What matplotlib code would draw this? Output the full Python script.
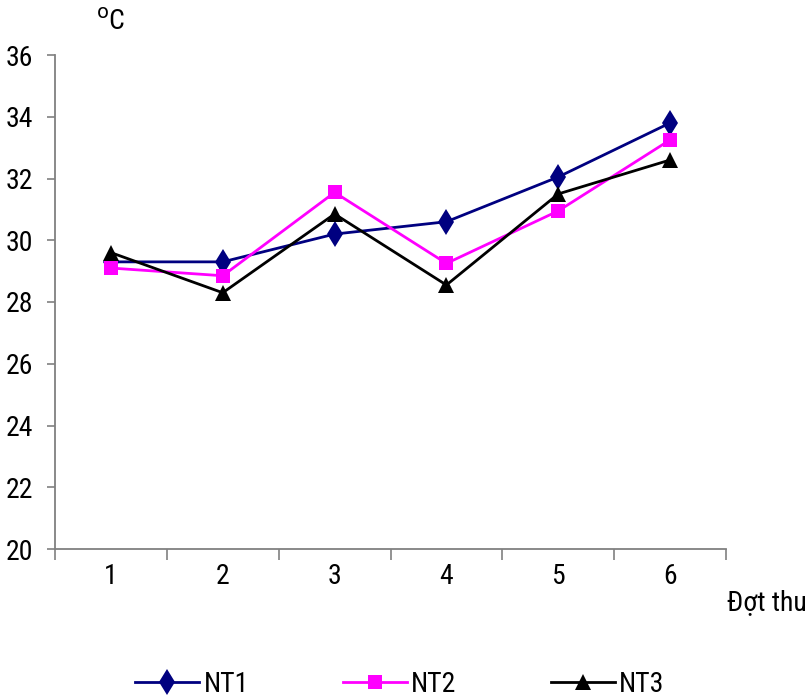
import matplotlib
matplotlib.use("Agg")
import matplotlib.pyplot as plt
from matplotlib import font_manager as fm

categories = ["1", "2", "3", "4", "5", "6"]
nt1 = [29.3, 29.3, 30.2, 30.6, 32.05, 33.8]
nt2 = [29.1, 28.85, 31.55, 29.25, 30.95, 33.25]
nt3 = [29.6, 28.3, 30.85, 28.55, 31.5, 32.6]
yticks = [20, 22, 24, 26, 28, 30, 32, 34, 36]

names = {f.name for f in fm.fontManager.ttflist}
prefs = ['Liberation Sans Narrow', 'Arial Narrow', 'Roboto Condensed', 'Archivo Narrow',
         'PT Sans Narrow', 'Pragati Narrow', 'Open Sans Condensed', 'Liberation Sans']
chosen = [p for p in prefs if p in names][:1]
plt.rcParams['font.family'] = chosen + ['DejaVu Sans']
FS = 20

fig = plt.figure(figsize=(8.09, 6.99), dpi=100)
ax = fig.add_axes([55/809, 1-549/699, (726-55)/809, (549-55)/699])

x = list(range(1, len(categories)+1))
ax.plot(x, nt1, color='#000080', lw=2, marker='d', ms=13, mew=0, label='NT1')
ax.plot(x, nt2, color='#FF00FF', lw=2, marker='s', ms=9.5, mew=0, label='NT2')
ax.plot(x, nt3, color='black', lw=2, marker='^', ms=12, mew=0, label='NT3')

ax.set_xlim(0.5, len(categories)+0.5)
ax.set_ylim(20, 36)
ax.set_yticks(yticks)
ax.set_yticklabels([str(v) for v in yticks], fontsize=FS)
ax.set_xticks(x)
ax.set_xticklabels(categories, fontsize=FS)
ax.set_xticks([i+0.5 for i in range(0, len(categories)+1)], minor=True)
ax.tick_params(axis='x', which='major', length=0, pad=10)
ax.tick_params(axis='x', which='minor', length=8, width=1.2, color='#808080', direction='out')
ax.tick_params(axis='y', which='major', length=6, width=1.2, color='#808080', direction='out', pad=10)
for s in ['top', 'right']:
    ax.spines[s].set_visible(False)
for s in ['left', 'bottom']:
    ax.spines[s].set_color('#808080')
    ax.spines[s].set_linewidth(1.3)

fig.text(96/809, 1-22/699, r'$^{\mathrm{o}}$C', fontsize=FS, ha='left', va='center')
fig.text(727/809, 1-603/699, 'Đợt thu', fontsize=FS, ha='left', va='center')

leg = fig.legend(loc='center', bbox_to_anchor=(400/809, 1-684/699), ncol=3, frameon=False,
                 fontsize=FS, handlelength=2.3, handletextpad=0.15, columnspacing=3.4)

fig.savefig('out.png', dpi=100)
